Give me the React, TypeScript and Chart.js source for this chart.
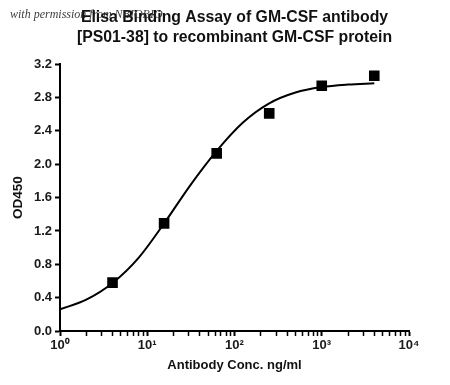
import React, { useEffect, useRef } from "react";
import { Chart, registerables } from "chart.js";

Chart.register(...registerables);

// Measured points (ng/ml, OD450)
const concentrations = [4, 15.6, 62.5, 250, 1000, 4000];
const od450 = [0.58, 1.29, 2.13, 2.61, 2.94, 3.06];

// Fitted curve
const fitConc = [1, 2, 4, 8, 15.6, 31.25, 62.5, 125, 250, 500, 1000, 2000, 4000];
const fitOD = [0.26, 0.375, 0.575, 0.88, 1.29, 1.75, 2.16, 2.5, 2.73, 2.86, 2.925, 2.955, 2.97];

// Axes
const xDecades = [1, 10, 100, 1000, 10000];
const xDecadeLabels = ["10\u2070", "10\u00b9", "10\u00b2", "10\u00b3", "10\u2074"];
const xMinorMultipliers = [2, 3, 4, 5, 6, 7, 8, 9];
const yTicks = [0, 0.4, 0.8, 1.2, 1.6, 2.0, 2.4, 2.8, 3.2];

const titleLines = [
  "Elisa Binding Assay of GM-CSF antibody",
  "[PS01-38] to recombinant GM-CSF protein",
];
const xTitle = "Antibody Conc. ng/ml";
const yTitle = "OD450";
const watermark = "with permission from NBIOBIO";

const FONT = "'Liberation Sans', Arial, Helvetica, sans-serif";

const watermarkPlugin = {
  id: "watermark",
  afterDraw(chart: any) {
    const ctx = chart.ctx;
    ctx.save();
    ctx.font = "italic 12px 'Liberation Serif', 'DejaVu Serif', serif";
    ctx.fillStyle = "rgba(40,40,40,0.9)";
    ctx.textBaseline = "middle";
    ctx.textAlign = "left";
    ctx.fillText(watermark, 10, 15);
    ctx.restore();
  },
};

export default function App() {
  const ref = useRef<HTMLCanvasElement | null>(null);

  useEffect(() => {
    if (!ref.current) return;
    const tickValues: number[] = [];
    for (let i = 0; i < xDecades.length - 1; i++) {
      tickValues.push(xDecades[i]);
      for (const m of xMinorMultipliers) tickValues.push(xDecades[i] * m);
    }
    tickValues.push(xDecades[xDecades.length - 1]);

    const chart = new Chart(ref.current, {
      type: "scatter",
      data: {
        datasets: [
          {
            label: "OD450",
            data: concentrations.map((c, i) => ({ x: c, y: od450[i] })),
            pointStyle: "rect",
            pointRadius: 7.5,
            pointBackgroundColor: "#000",
            pointBorderColor: "#000",
            pointBorderWidth: 0,
            showLine: false,
          },
          {
            label: "fit",
            data: fitConc.map((c, i) => ({ x: c, y: fitOD[i] })),
            showLine: true,
            pointRadius: 0,
            borderColor: "#000",
            borderWidth: 2,
            cubicInterpolationMode: "monotone",
            fill: false,
          },
        ],
      },
      options: {
        responsive: false,
        animation: false,
        devicePixelRatio: 1,
        layout: { padding: { top: 0, left: 0, right: 41, bottom: 0 } },
        plugins: {
          legend: { display: false },
          tooltip: { enabled: false },
          title: {
            display: true,
            fullSize: false,
            text: titleLines,
            color: "#111",
            font: { family: FONT, size: 15.8, weight: "bold", lineHeight: 1.27 },
            padding: { top: 8, bottom: 16 },
          },
        },
        scales: {
          x: {
            type: "logarithmic",
            min: 1,
            max: 10000,
            afterBuildTicks: (scale: any) => {
              scale.ticks = tickValues.map((v) => ({ value: v, major: xDecades.includes(v) }));
            },
            afterFit: (scale: any) => {
              scale.height = 54;
            },
            border: { display: true, color: "#000", width: 2 },
            grid: {
              drawOnChartArea: false,
              drawTicks: true,
              tickLength: 5,
              tickColor: "#000",
              tickWidth: (ctx: any) => (ctx.tick && xDecades.includes(ctx.tick.value) ? 2 : 1.5),
            },
            ticks: {
              autoSkip: false,
              maxRotation: 0,
              padding: 2,
              color: "#1a1a1a",
              font: { family: FONT, size: 13, weight: "bold" },
              callback: (value: any) => {
                const idx = xDecades.indexOf(Number(value));
                return idx >= 0 ? xDecadeLabels[idx] : "";
              },
            },
            title: {
              display: true,
              text: xTitle,
              color: "#111",
              font: { family: FONT, size: 13, weight: "bold" },
              padding: { top: 0, bottom: 12 },
            },
          },
          y: {
            min: 0,
            max: 3.2,
            afterBuildTicks: (scale: any) => {
              scale.ticks = yTicks.map((v) => ({ value: v }));
            },
            afterFit: (scale: any) => {
              scale.width = 60;
            },
            border: { display: true, color: "#000", width: 2 },
            grid: {
              drawOnChartArea: false,
              drawTicks: true,
              tickLength: 5,
              tickColor: "#000",
              tickWidth: 2,
            },
            ticks: {
              padding: 3,
              color: "#1a1a1a",
              font: { family: FONT, size: 13, weight: "bold" },
              callback: (value: any) => Number(value).toFixed(1),
            },
            title: {
              display: true,
              text: yTitle,
              color: "#111",
              font: { family: FONT, size: 13.5, weight: "bold" },
              padding: { top: 10, bottom: 0 },
            },
          },
        },
      },
      plugins: [watermarkPlugin],
    } as any);

    return () => chart.destroy();
  }, []);

  return (
    <div style={{ position: "fixed", left: 0, top: 0, width: 450, height: 385, background: "#fff" }}>
      <canvas ref={ref} width={450} height={385} style={{ width: 450, height: 385, display: "block" }} />
    </div>
  );
}
